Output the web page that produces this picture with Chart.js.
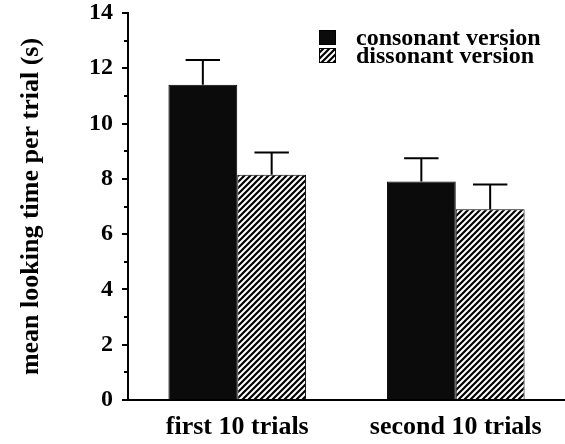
<!DOCTYPE html>
<html>
<head>
<meta charset="utf-8">
<script src="https://cdn.jsdelivr.net/npm/chart.js@4.4.1/dist/chart.umd.min.js"></script>
<style>
  html, body { margin: 0; padding: 0; background: #fff; }
  #wrap { position: relative; width: 565px; height: 444px; }
</style>
</head>
<body>
<div id="wrap"><canvas id="chart_one" width="565" height="444"></canvas></div>
<script>

var categories = ['first 10 trials', 'second 10 trials'];
var series_names = ['consonant version', 'dissonant version'];
var consonant = [11.4, 7.9];
var consonant_err = [0.9, 0.85];
var dissonant = [8.15, 6.9];
var dissonant_err = [0.8, 0.9];
var y_max = 14;
var y_step = 2;

var serif = '"Liberation Serif", "Times New Roman", serif';


function make_hatch(){
    // "/" stripes, black on white
    var s = 6;
    var c = document.createElement('canvas');
    c.width = s; c.height = s;
    var g = c.getContext('2d');
    g.fillStyle = '#fff';
    g.fillRect(0, 0, s, s);
    g.strokeStyle = '#000';
    g.lineWidth = 2.2;
    g.beginPath();
    g.moveTo(-1, s + 1); g.lineTo(s + 1, -1);
    g.moveTo(-1, 1); g.lineTo(1, -1);
    g.moveTo(s - 1, s + 1); g.lineTo(s + 1, s - 1);
    g.stroke();
    return g.createPattern(c, 'repeat');
}


var error_bars = {
    id: 'error_bars',
    afterDatasetsDraw: function(chart){
        var ctx = chart.ctx;
        var y = chart.scales.y;
        ctx.save();
        ctx.strokeStyle = '#000';
        ctx.lineWidth = 2;
        chart.data.datasets.forEach(function(ds, di){
            var meta = chart.getDatasetMeta(di);
            meta.data.forEach(function(bar, i){
                var top = y.getPixelForValue(ds.data[i] + ds.errors[i]);
                var half = bar.width * 0.25;
                ctx.beginPath();
                ctx.moveTo(bar.x, bar.y);
                ctx.lineTo(bar.x, top);
                ctx.moveTo(bar.x - half, top);
                ctx.lineTo(bar.x + half, top);
                ctx.stroke();
            });
        });
        ctx.restore();
    }
};


var minor_ticks = {
    id: 'minor_ticks',
    afterDraw: function(chart){
        var ctx = chart.ctx;
        var y = chart.scales.y;
        var x0 = chart.chartArea.left;
        ctx.save();
        ctx.strokeStyle = '#000';
        ctx.lineWidth = 2;
        for (var v = 1; v < y_max; v += 2){
            var py = Math.round(y.getPixelForValue(v));
            ctx.beginPath();
            ctx.moveTo(x0 - 4, py);
            ctx.lineTo(x0, py);
            ctx.stroke();
        }
        ctx.restore();
    }
};


var box_legend = {
    id: 'box_legend',
    afterDraw: function(chart){
        var ctx = chart.ctx;
        ctx.save();
        ctx.font = 'bold 24px ' + serif;
        ctx.textBaseline = 'alphabetic';
        ctx.textAlign = 'left';
        chart.data.datasets.forEach(function(ds, di){
            var top = 30 + di * 18;
            ctx.fillStyle = ds.backgroundColor;
            ctx.fillRect(319, top, 17, 15);
            ctx.strokeStyle = '#000';
            ctx.lineWidth = 1;
            ctx.strokeRect(319.5, top + 0.5, 16, 14);
            ctx.fillStyle = '#000';
            ctx.fillText(ds.label, 356, top + 15);
        });
        ctx.restore();
    }
};


function build_chart(){
    var ctx = document.getElementById('chart_one').getContext('2d');
    var chart = new Chart(ctx, {
        type: 'bar',
        data: {
            labels: categories,
            datasets: [{
                label: series_names[0],
                data: consonant,
                errors: consonant_err,
                backgroundColor: '#0b0b0b',
                borderColor: '#000',
                borderWidth: 1,
                categoryPercentage: 0.63,
                barPercentage: 1.0
            }, {
                label: series_names[1],
                data: dissonant,
                errors: dissonant_err,
                backgroundColor: make_hatch(),
                borderColor: '#000',
                borderWidth: 1,
                categoryPercentage: 0.63,
                barPercentage: 1.0
            }]
        },
        options: {
            responsive: false,
            animation: false,
            layout: { padding: { top: 13, right: 0, left: 0, bottom: 0 } },
            plugins: {
                legend: { display: false },
                tooltip: { enabled: false }
            },
            scales: {
                x: {
                    grid: { display: false, drawTicks: false },
                    border: { display: true, color: '#000', width: 2 },
                    ticks: {
                        color: '#000',
                        padding: 12,
                        maxRotation: 0,
                        font: { family: serif, size: 26, weight: 'bold' }
                    },
                    afterFit: function(scale){
                        scale.height = 44;
                        scale.paddingLeft = 0;
                        scale.paddingRight = 0;
                    }
                },
                y: {
                    min: 0,
                    max: y_max,
                    ticks: {
                        stepSize: y_step,
                        color: '#000',
                        padding: 9,
                        font: { family: serif, size: 24, weight: 'bold' }
                    },
                    grid: {
                        drawOnChartArea: false,
                        drawTicks: true,
                        tickLength: 6,
                        lineWidth: 2,
                        color: '#000'
                    },
                    border: { display: true, color: '#000', width: 2 },
                    title: {
                        display: true,
                        text: 'mean looking time per trial (s)',
                        color: '#000',
                        padding: { top: 16, bottom: 0 },
                        font: { family: serif, size: 26, weight: 'bold' }
                    },
                    afterFit: function(scale){
                        scale.width = 128;
                        scale.paddingTop = 0;
                        scale.paddingBottom = 0;
                    }
                }
            }
        },
        plugins: [error_bars, minor_ticks, box_legend]
    });
    console.log(chart.chartArea);
}

build_chart();

</script>
</body>
</html>
